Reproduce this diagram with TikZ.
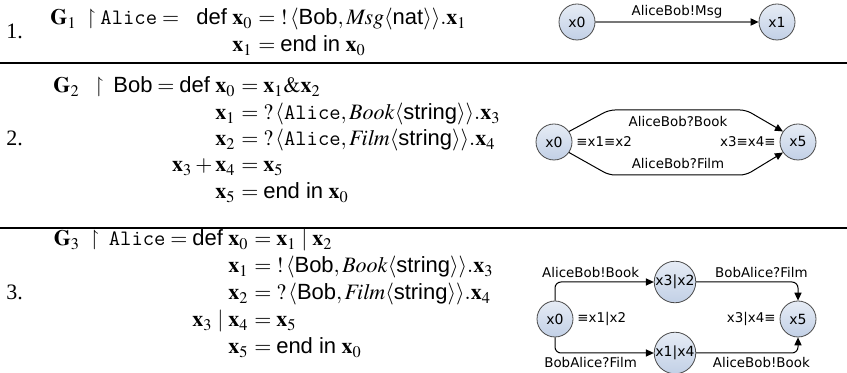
\documentclass[tikz,border=0pt]{standalone}
\usepackage{mathptmx}
\usepackage{amssymb}
\usepackage{fontspec}
\setmainfont{Liberation Serif}
\setsansfont{Liberation Sans}
\newfontfamily\graphfont{DejaVu Sans}
\usetikzlibrary{arrows.meta, positioning, calc}
\definecolor{statetop}{HTML}{E6ECF5}
\definecolor{statebot}{HTML}{C2D0E6}
\definecolor{stateline}{HTML}{4A4A4A}
\definecolor{msgline}{HTML}{777777}
\newcommand{\sx}[1]{\mathbf{x}_{#1}}

\begin{document}
\begin{tikzpicture}[
    x=0.5pt, y=-0.5pt,
    every node/.style={font=\fontsize{11}{13}\selectfont},
    lhs/.style={anchor=base east, inner sep=0pt},
    rhs/.style={anchor=base west, inner sep=0pt},
    num/.style={anchor=base west, inner sep=0pt},
    state/.style={circle, draw=stateline, top color=statetop, bottom color=statebot,
                  minimum size=18pt, inner sep=0pt, line width=0.4pt,
                  font=\graphfont\fontsize{7}{8}\selectfont},
    lbl/.style={inner sep=1.8pt, font=\graphfont\fontsize{6.7}{8}\selectfont},
    edge/.style={-{Triangle[length=4pt, width=3.6pt, color=black]}, line width=0.5pt, rounded corners=3pt},
    rule/.style={line width=0.8pt}
]
    \useasboundingbox (0,0) rectangle (847,373);

    % 1.
    \node[num] (n1) at (6,39) {1.};
    \node[rhs] (g1)      at (50,25)  {$\mathbf{G}_1 \;\upharpoonright \texttt{Alice} =$};
    \node[lhs] (g1x0)    at (253,25) {$\textsf{def}\ \sx0$};
    \node[rhs] (g1x0def) at (253,25) {${}= {!}\,\langle\textsf{Bob}, \mathit{Msg}\langle\textsf{nat}\rangle\rangle.\sx1$};
    \node[lhs] (g1x1)    at (253,52) {$\sx1$};
    \node[rhs] (g1x1def) at (253,52) {${}= \textsf{end in}\ \sx0$};

    \node[state] (a0) at (577,22) {x0};
    \node[state] (a1) at (777,22) {x1};
    \draw[edge, draw=msgline, line width=0.6pt] (a0) -- node[lbl, above] {AliceBob!Msg} (a1);

    \draw[rule] (0,63) -- (847,63);

    % 2.
    \node[num] (n2) at (6,146) {2.};
    \node[lhs] (g2x0)    at (236,93) {$\mathbf{G}_2 \;\;\upharpoonright\; \textsf{Bob} = \textsf{def}\ \sx0$};
    \node[rhs] (g2x0def) at (236,93) {${}= \sx1 \& \sx2$};
    \node[lhs] (g2x1)    at (236,120) {$\sx1$};
    \node[rhs] (g2x1def) at (236,120) {${}= {?}\,\langle\texttt{Alice}, \mathit{Book}\langle\textsf{string}\rangle\rangle.\sx3$};
    \node[lhs] (g2x2)    at (236,146) {$\sx2$};
    \node[rhs] (g2x2def) at (236,146) {${}= {?}\,\langle\texttt{Alice}, \mathit{Film}\langle\textsf{string}\rangle\rangle.\sx4$};
    \node[lhs] (g2x34)   at (236,172) {$\sx3 + \sx4$};
    \node[rhs] (g2x34def) at (236,172) {${}= \sx5$};
    \node[lhs] (g2x5)    at (236,199) {$\sx5$};
    \node[rhs] (g2x5def) at (236,199) {${}= \textsf{end in}\ \sx0$};

    \node[state] (b0) at (554,142) {x0};
    \node[state] (b5) at (798,142) {x5};
    \draw[edge] (b0.35) -- (609,110) -- (746,110) -- (b5.145);
    \draw[edge] (b0.-35) -- (609,175) -- (746,175) -- (b5.-145);
    \node[lbl] (bbook) at (678,122) {AliceBob?Book};
    \node[lbl] (bfilm) at (678,164) {AliceBob?Film};
    \node[lbl, right=0pt of b0] (b0eq) {≡x1≡x2};
    \node[lbl, left=0pt of b5]  (b5eq) {x3≡x4≡};

    \draw[rule] (0,228) -- (847,228);

    % 3.
    \node[num] (n3) at (6,300) {3.};
    \node[lhs] (g3x0)    at (249,246) {$\mathbf{G}_3 \;\upharpoonright\; \texttt{Alice} = \textsf{def}\ \sx0$};
    \node[rhs] (g3x0def) at (249,246) {${}= \sx1 \mid \sx2$};
    \node[lhs] (g3x1)    at (249,273) {$\sx1$};
    \node[rhs] (g3x1def) at (249,273) {${}= {!}\,\langle\textsf{Bob}, \mathit{Book}\langle\textsf{string}\rangle\rangle.\sx3$};
    \node[lhs] (g3x2)    at (249,300) {$\sx2$};
    \node[rhs] (g3x2def) at (249,300) {${}= {?}\,\langle\textsf{Bob}, \mathit{Film}\langle\textsf{string}\rangle\rangle.\sx4$};
    \node[lhs] (g3x34)   at (249,327) {$\sx3 \mid \sx4$};
    \node[rhs] (g3x34def) at (249,327) {${}= \sx5$};
    \node[lhs] (g3x5)    at (249,354) {$\sx5$};
    \node[rhs] (g3x5def) at (249,354) {${}= \textsf{end in}\ \sx0$};

    \node[state] (c0)  at (555,319) {x0};
    \node[state] (c32) at (675,282) {x3|x2};
    \node[state] (c14) at (675,353) {x1|x4};
    \node[state] (c5)  at (798,319) {x5};
    \draw[edge] (c0.north) |- node[lbl, above, pos=0.68] {AliceBob!Book} (c32.west);
    \draw[edge] (c32.east) -| node[lbl, above, pos=0.32] {BobAlice?Film} (c5.north);
    \draw[edge] (c0.south) |- node[lbl, below, pos=0.68] {BobAlice?Film} (c14.west);
    \draw[edge] (c14.east) -| node[lbl, below, pos=0.32] {AliceBob!Book} (c5.south);
    \node[lbl, right=0pt of c0] (c0eq) {≡x1|x2};
    \node[lbl, left=0pt of c5]  (c5eq) {x3|x4≡};
\end{tikzpicture}
\end{document}
